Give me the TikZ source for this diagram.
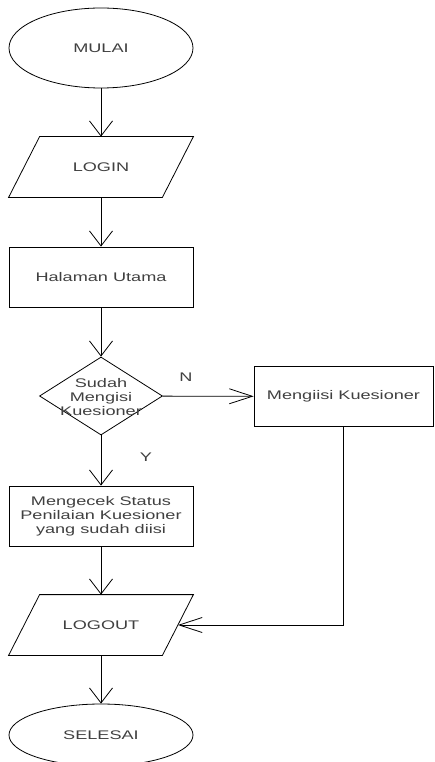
\documentclass[tikz,border=0pt]{standalone}
\usepackage{fontspec}
\newfontfamily\flowfont{Liberation Sans}[FakeStretch=1.45]
\usetikzlibrary{shapes.geometric,arrows.meta}
\definecolor{txtgray}{RGB}{64,64,64}

\begin{document}
\begin{tikzpicture}[x=1pt,y=-1pt,line width=0.8pt,
		every node/.style={font=\flowfont\fontsize{12.5}{14}\selectfont,text=txtgray},
		term/.style={ellipse,draw=black,minimum width=184pt,minimum height=80pt,inner sep=0pt},
		iobox/.style={rectangle,minimum width=153pt,minimum height=60pt,inner sep=0pt},
		proc/.style={rectangle,draw=black,minimum width=184pt,minimum height=60pt,inner sep=0pt,align=center},
		decision/.style={diamond,draw=black,minimum width=123pt,minimum height=78pt,inner sep=0pt},
		down/.style={-{Straight Barb[length=15pt,width=23pt]}},
		side/.style={-{Straight Barb[length=23pt,width=15pt]}}]
			\useasboundingbox (0,0) rectangle (434,762);
			\node[term] (mulai) at (101,48) {MULAI};
			\node[iobox] (login) at (101,167) {LOGIN};
			\node[proc] (utama) at (101,277) {Halaman Utama};
			\node[decision] (sudah) at (101,396) {};
			\node[align=center] (sudahtxt) at (101,397) {Sudah\\Mengisi\\Kuesioner};
			\node[proc,minimum width=179pt] (mengisi) at (343.5,396.5) {Mengiisi Kuesioner};
			\node[proc] (cekstatus) at (101,516) {Mengecek Status\\Penilaian Kuesioner\\yang sudah diisi};
			\node[iobox] (logout) at (101,625) {LOGOUT};
			\node[term,minimum height=62pt] (selesai) at (101,735) {SELESAI};
			\node (lblN) at (186,377) {N};
			\node (lblY) at (146,457) {Y};
			% slanted input/output boxes
			\foreach \io in {login,logout}
				\draw ([xshift=15.5pt]\io.north west) -- ([xshift=15.5pt]\io.north east)
					-- ([xshift=-15.5pt]\io.south east) -- ([xshift=-15.5pt]\io.south west) -- cycle;
			% connectors
			\draw[down] (mulai) -- (login);
			\draw[down] (login) -- (utama);
			\draw[down] (utama) -- (sudah);
			\draw[side] (sudah) -- (mengisi);
			\draw[down] (sudah) -- (cekstatus);
			\draw[down] (cekstatus) -- (logout);
			\draw[side] (mengisi.south) |- (logout);
			\draw[down] (logout) -- (selesai);
		\end{tikzpicture}
\end{document}
